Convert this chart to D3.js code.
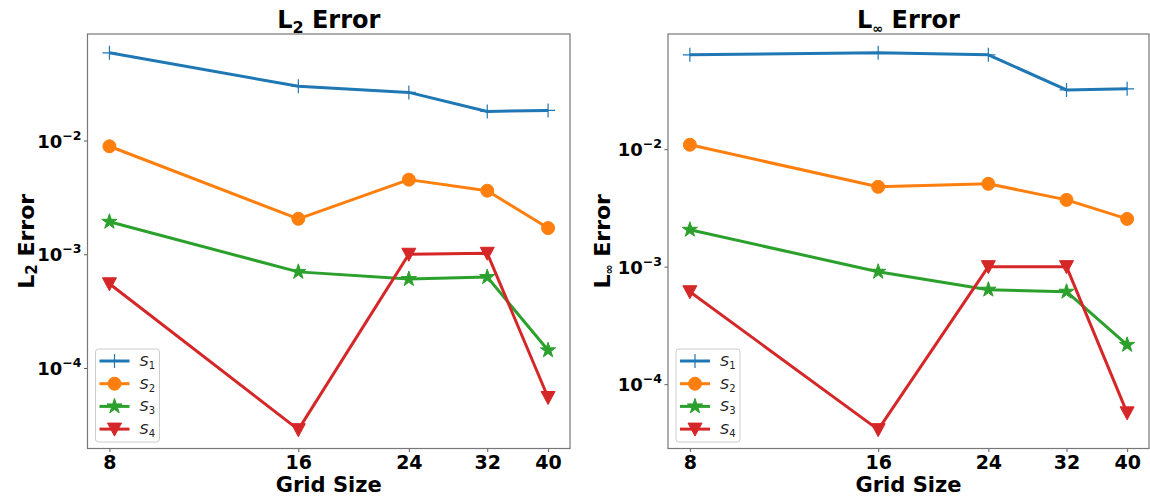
<!DOCTYPE html>
<html>
<head>
<meta charset="utf-8">
<script src="https://cdn.jsdelivr.net/npm/d3@7"></script>
<style>
  body { margin: 0; background: #fff; }
  svg text { font-family: "DejaVu Sans", sans-serif; }
</style>
</head>
<body>
<div id="vis"></div>
<script>
// grid sizes (x axis, log scale)
const gridSizes = [8, 16, 24, 32, 40];

// L2 error, one array per scheme
const l2S1 = [0.059, 0.030, 0.0265, 0.018, 0.0184];
const l2S2 = [0.0089, 0.00205, 0.00453, 0.00362, 0.0017];
const l2S3 = [0.00193, 0.0007, 0.000605, 0.00063, 0.000143];
const l2S4 = [0.00055, 0.0000287, 0.001, 0.00102, 0.000055];

// L-infinity error
const linfS1 = [0.0635, 0.066, 0.0635, 0.0319, 0.0326];
const linfS2 = [0.0109, 0.00478, 0.00507, 0.0037, 0.00255];
const linfS3 = [0.00206, 0.000905, 0.000637, 0.000612, 0.000216];
const linfS4 = [0.000612, 0.000041, 0.001, 0.001, 0.000057];

const seriesNames = ['1', '2', '3', '4'];
const yTicks = [1e-2, 1e-3, 1e-4];

const colors = ['#1f77b4', '#ff7f0e', '#2ca02c', '#d62728'];
const markers = ['plus', 'circle', 'star', 'tridown'];

let svg = d3.select('#vis')
    .append('svg')
    .attr('width', 1150)
    .attr('height', 498);

// marker path helper
let markerPath = (type) => {
    if (type === 'circle') return d3.symbol(d3.symbolCircle, Math.PI * 6.5 * 6.5)();
    if (type === 'star') return d3.symbol(d3.symbolStar, 64 / 0.8908130915)();
    if (type === 'tridown') return 'M-7,-6L7,-6L0,7Z';
    return 'M-7,0L7,0M0,-7L0,7';
};

let drawMarker = (g, type, color, x, y) => {
    let p = g.append('path')
        .attr('d', markerPath(type))
        .attr('transform', `translate(${x},${y})`);
    if (type === 'plus') {
        p.attr('fill', 'none').attr('stroke', color).attr('stroke-width', 1.2);
    } else {
        p.attr('fill', color).attr('stroke', color).attr('stroke-width', 1);
    }
};

// pad a log domain by 5% on each side like matplotlib
let logPad = (lo, hi) => {
    let a = Math.log10(lo), b = Math.log10(hi), m = (b - a) * 0.05;
    return [Math.pow(10, a - m), Math.pow(10, b + m)];
};

let drawPanel = (cfg) => {
    let left = cfg.left, right = cfg.right, top = 34, bottom = 448.5;
    let g = svg.append('g');

    let xScale = d3.scaleLog()
        .domain(logPad(d3.min(gridSizes), d3.max(gridSizes)))
        .range([left, right]);

    let all = cfg.series.flat();
    let yScale = d3.scaleLog()
        .domain(logPad(d3.min(all), d3.max(all)))
        .range([bottom, top]);

    // axes
    let xAxis = d3.axisBottom(xScale)
        .tickValues(gridSizes)
        .tickFormat(d3.format('d'))
        .tickSize(3.5)
        .tickPadding(4);
    let xg = g.append('g')
        .attr('transform', `translate(0,${bottom})`)
        .call(xAxis);
    xg.select('.domain').remove();
    xg.selectAll('line').attr('stroke', '#333').attr('stroke-width', 0.8);
    xg.selectAll('text')
        .attr('font-size', 19)
        .attr('font-weight', 'bold')
        .attr('fill', '#000')
        .attr('font-family', 'DejaVu Sans');

    let yAxis = d3.axisLeft(yScale)
        .tickValues(yTicks)
        .tickFormat('')
        .tickSize(3.5);
    let yg = g.append('g')
        .attr('transform', `translate(${left},0)`)
        .call(yAxis);
    yg.select('.domain').remove();
    yg.selectAll('line').attr('stroke', '#333').attr('stroke-width', 0.8);
    yg.selectAll('.tick').each(function(d) {
        let t = d3.select(this).append('text')
            .attr('x', -6)
            .attr('y', 6.5)
            .attr('text-anchor', 'end')
            .attr('fill', '#000')
            .attr('font-weight', 'bold')
            .attr('font-size', 18);
        t.append('tspan').text('10');
        t.append('tspan')
            .attr('font-size', 12.5)
            .attr('dy', -8)
            .text('\u2212' + Math.round(-Math.log10(d)));
    });

    // lines and markers
    let line = d3.line()
        .x((d, i) => xScale(gridSizes[i]))
        .y(d => yScale(d));

    cfg.series.forEach((vals, k) => {
        g.append('path')
            .datum(vals)
            .attr('d', line)
            .attr('fill', 'none')
            .attr('stroke', colors[k])
            .attr('stroke-width', 3)
            .attr('stroke-linejoin', 'round');
        vals.forEach((v, i) => drawMarker(g, markers[k], colors[k], xScale(gridSizes[i]), yScale(v)));
    });

    // frame
    g.append('rect')
        .attr('x', left)
        .attr('y', top)
        .attr('width', right - left)
        .attr('height', bottom - top)
        .attr('fill', 'none')
        .attr('stroke', '#777')
        .attr('stroke-width', 1.2);

    // title
    let title = g.append('text')
        .attr('x', (left + right) / 2)
        .attr('y', 28)
        .attr('text-anchor', 'middle')
        .attr('font-weight', 'bold')
        .attr('font-size', 24);
    title.append('tspan').text('L');
    title.append('tspan').attr('font-size', cfg.subSize).attr('dy', 5).text(cfg.sub);
    title.append('tspan').attr('dy', -5).text(' Error');

    // x label
    g.append('text')
        .attr('x', (left + right) / 2)
        .attr('y', 492)
        .attr('text-anchor', 'middle')
        .attr('font-weight', 'bold')
        .attr('font-size', 21)
        .text('Grid Size');

    // y label
    let yl = g.append('text')
        .attr('transform', `translate(${cfg.ylabelX},${(top + bottom) / 2}) rotate(-90)`)
        .attr('text-anchor', 'middle')
        .attr('font-weight', 'bold')
        .attr('font-size', 22);
    yl.append('tspan').text('L');
    yl.append('tspan').attr('font-size', cfg.subSize - 1).attr('dy', 3).text(cfg.sub);
    yl.append('tspan').attr('dy', -3).text(' Error');

    // legend
    let lx = left + 8, ly = 349, lw = 64, lh = 93;
    let leg = g.append('g');
    leg.append('rect')
        .attr('x', lx).attr('y', ly)
        .attr('width', lw).attr('height', lh)
        .attr('rx', 3)
        .attr('fill', '#fff')
        .attr('fill-opacity', 0.8)
        .attr('stroke', '#ccc')
        .attr('stroke-width', 1);
    seriesNames.forEach((name, k) => {
        let cy = ly + 12 + k * 22.7;
        leg.append('line')
            .attr('x1', lx + 4).attr('x2', lx + 34)
            .attr('y1', cy).attr('y2', cy)
            .attr('stroke', colors[k])
            .attr('stroke-width', 3);
        drawMarker(leg, markers[k], colors[k], lx + 19, cy);
        let t = leg.append('text')
            .attr('x', lx + 44)
            .attr('y', cy + 5)
            .attr('font-size', 14.5)
            .attr('fill', '#222');
        t.append('tspan').attr('font-style', 'italic').text('S');
        t.append('tspan').attr('font-size', 10).attr('dy', 3).text(name);
    });
};

drawPanel({
    left: 87.5, right: 570,
    sub: '2', subSize: 16,
    ylabelX: 34,
    series: [l2S1, l2S2, l2S3, l2S4]
});

drawPanel({
    left: 668, right: 1149,
    sub: '\u221e', subSize: 13,
    ylabelX: 610,
    series: [linfS1, linfS2, linfS3, linfS4]
});
</script>
</body>
</html>
